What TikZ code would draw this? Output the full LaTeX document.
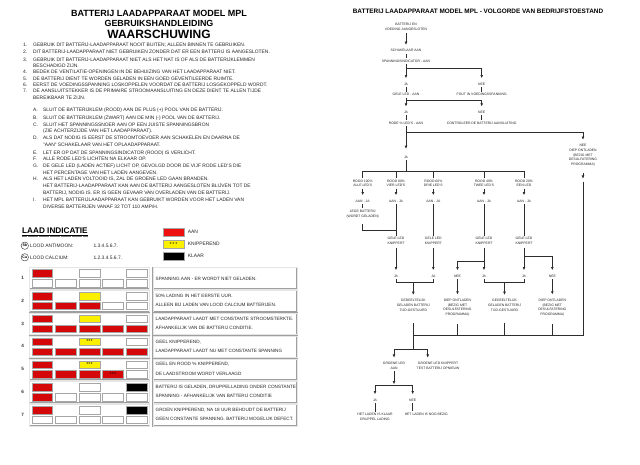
\documentclass[tikz,border=0pt]{standalone}
\usepackage{fontspec}
\setmainfont{Liberation Sans}
\usetikzlibrary{arrows.meta,calc}
\definecolor{ledred}{RGB}{212,8,8}
\definecolor{legred}{RGB}{238,16,16}
\definecolor{ledyel}{RGB}{250,240,0}
\definecolor{lnc}{RGB}{45,45,45}
\newcommand\bodyfont{\fontsize{4.9}{6}\selectfont}
\newcommand\tabfont{\fontsize{4.65}{6}\selectfont}
\newcommand\flfont{\fontsize{3.4}{4.7}\selectfont}
\newcommand\starfont{\fontsize{4}{4}\selectfont\bfseries}
\tikzset{
  bt/.style={anchor=west, inner sep=0pt, text height=3.5pt, text depth=0pt, font=\bodyfont, text=black!85},
  tt/.style={anchor=west, inner sep=0pt, text height=3.4pt, text depth=0pt, font=\tabfont, text=black!85},
  cellb/.style={draw=gray!70, line width=0.35pt, minimum width=20.7pt, minimum height=7.4pt, inner sep=0pt, anchor=north west},
  cw/.style={cellb, fill=white},
  cr/.style={cellb, fill=ledred},
  cy/.style={cellb, fill=ledyel},
  ck/.style={cellb, fill=black},
  cyb/.style={cellb, fill=ledyel, execute at begin node={\starfont *\,*\,*}},
  crb/.style={cellb, fill=ledred, execute at begin node={\starfont *\,*\,*}},
  frm/.style={draw=gray!75, line width=0.55pt, double=gray!20, double distance=0.5pt, inner sep=0pt, anchor=north west},
  fl/.style={font=\flfont, align=center, inner sep=0.4pt, outer sep=1.2pt, text=black!85},
  ln/.style={draw=lnc, line width=0.6pt},
  arr/.style={ln, -{Latex[length=3.2pt,width=2.8pt]}, shorten >=3pt},
}
\newcommand\ledrow[9]{%
  \pgfmathsetmacro\rT{269.3+(#1-1)*22.8}%
  \pgfmathsetmacro\rB{\rT+9.8}%
  \pgfmathsetmacro\rF{\rT-2}%
  \pgfmathsetmacro\rL{\rT+8.6}%
  \node[frm, minimum width=120pt, minimum height=21.4pt] (fa#1) at (29.3,\rF) {};
  \node[frm, minimum width=143.7pt, minimum height=21.4pt] (fb#1) at (153,\rF) {};
  \node[font=\tabfont\bfseries, text=black!80, inner sep=0pt] (lab#1) at (22.7,\rL) {#1};
  \node[#2] (c#1a) at (31.7,\rT) {};
  \node[#3] (c#1b) at (79,\rT) {};
  \node[#4] (c#1c) at (126,\rT) {};
  \node[#5] (c#1d) at (31.7,\rB) {};
  \node[#6] (c#1e) at (55,\rB) {};
  \node[#7] (c#1f) at (79,\rB) {};
  \node[#8] (c#1g) at (102.3,\rB) {};
  \node[#9] (c#1h) at (126,\rB) {};
}
\newcommand\rowtext[3]{%
  \pgfmathsetmacro\rT{269.3+(#1-1)*22.8}%
  \pgfmathsetmacro\rP{\rT+3.6}%
  \pgfmathsetmacro\rQ{\rT+12.8}%
  \node[tt] (ta#1) at (155.5,\rP) {#2};
  \node[tt] (tb#1) at (155.5,\rQ) {#3};
}
\begin{document}
\begin{tikzpicture}[x=1pt,y=-1pt]
\useasboundingbox (0,0) rectangle (640,465);
\fill[white] (0,0) rectangle (640,465);

% ---------- left: titles ----------
\node[font=\fontsize{9}{10}\selectfont\bfseries, inner sep=0pt] (tl1) at (159,13) {BATTERIJ LAADAPPARAAT MODEL MPL};
\node[font=\fontsize{8.9}{10}\selectfont\bfseries, inner sep=0pt] (tl2) at (159,23) {GEBRUIKSHANDLEIDING};
\node[font=\fontsize{12}{13}\selectfont\bfseries, inner sep=0pt] (tl3) at (159,34) {WAARSCHUWING};

% ---------- left: instructions ----------
\node[bt] (i1) at (23,44.3) {1.};
\node[bt] (s1) at (33,44.3) {GEBRUIK DIT BATTERIJ-LAADAPPARAAT NOOIT BUITEN; ALLEEN BINNEN TE GEBRUIKEN.};
\node[bt] (i2) at (23,51.7) {2.};
\node[bt] (s2) at (33,51.7) {DIT BATTERIJ-LAADAPPARAAT NIET GEBRUIKEN ZONDER DAT ER EEN BATTERIJ IS AANGESLOTEN.};
\node[bt] (i3) at (23,59.3) {3.};
\node[bt] (s3) at (33,59.3) {GEBRUIK DIT BATTERIJ-LAADAPPARAAT NIET ALS HET NAT IS OF ALS DE BATTERIJKLEMMEN};
\node[bt] (s3b) at (33,65.8) {BESCHADIGD ZIJN.};
\node[bt] (i4) at (23,71.5) {4.};
\node[bt] (s4) at (33,71.5) {BEDEK DE VENTILATIE-OPENINGEN IN DE BEHUIZING VAN HET LAADAPPARAAT NIET.};
\node[bt] (i5) at (23,78.3) {5.};
\node[bt] (s5) at (33,78.3) {DE BATTERIJ DIENT TE WORDEN GELADEN IN EEN GOED GEVENTILEERDE RUIMTE.};
\node[bt] (i6) at (23,84.6) {6.};
\node[bt] (s6) at (33,84.6) {EERST DE VOEDINGSSPANNING LOSKOPPELEN VOORDAT DE BATTERIJ LOSGEKOPPELD WORDT.};
\node[bt] (i7) at (23,91) {7.};
\node[bt] (s7) at (33,91) {DE AANSLUITSTEKKER IS DE PRIMAIRE STROOMAANSLUITING EN DEZE DIENT TE ALLEN TIJDE};
\node[bt] (s7b) at (33,98) {BEREIKBAAR TE ZIJN.};

\node[bt] (ia) at (33,110) {A.};
\node[bt] (sa) at (43,110) {SLUIT DE BATTERIJKLEM (ROOD) AAN DE PLUS (+) POOL VAN DE BATTERIJ.};
\node[bt] (ib) at (33,117.3) {B.};
\node[bt] (sb) at (43,117.3) {SLUIT DE BATTERIJKLEM (ZWART) AAN DE MIN (-) POOL VAN DE BATTERIJ.};
\node[bt] (ic) at (33,124.3) {C.};
\node[bt] (sc) at (43,124.3) {SLUIT HET SPANNINGSSNOER AAN OP EEN JUISTE SPANNINGSBRON};
\node[bt] (sc2) at (43,130.8) {(ZIE ACHTERZIJDE VAN HET LAADAPPARAAT).};
\node[bt] (id) at (33,137.8) {D.};
\node[bt] (sd) at (43,137.8) {ALS DAT NODIG IS EERST DE STROOMTOEVOER AAN SCHAKELEN EN DAARNA DE};
\node[bt] (sd2) at (43,144.8) {"AAN" SCHAKELAAR VAN HET OPLAADAPPARAAT.};
\node[bt] (ie) at (33,152.3) {E.};
\node[bt] (se) at (43,152.3) {LET ER OP DAT DE SPANNINGSINDICATOR (ROOD) IS VERLICHT.};
\node[bt] (iff) at (33,159) {F.};
\node[bt] (sf) at (43,159) {ALLE RODE LED'S LICHTEN NA ELKAAR OP.};
\node[bt] (ig) at (33,165.7) {G.};
\node[bt] (sg) at (43,165.7) {DE GELE LED (LADEN ACTIEF) LICHT OP, GEVOLGD DOOR DE VIJF RODE LED'S DIE};
\node[bt] (sg2) at (43,172.3) {HET PERCENTAGE VAN HET LADEN AANGEVEN.};
\node[bt] (ih) at (33,179) {H.};
\node[bt] (sh) at (43,179) {ALS HET LADEN VOLTOOID IS, ZAL DE GROENE LED GAAN BRANDEN.};
\node[bt] (sh2) at (43,185.7) {HET BATTERIJ-LAADAPPARAAT KAN AAN DE BATTERIJ AANGESLOTEN BLIJVEN TOT DE};
\node[bt] (sh3) at (43,192.7) {BATTERIJ, NODIG IS. ER IS GEEN GEVAAR VAN OVERLADEN VAN DE BATTERIJ.};
\node[bt] (ii) at (33,200) {I.};
\node[bt] (si) at (43,200) {HET MPL BATTERIJLAADAPPARAAT KAN GEBRUIKT WORDEN VOOR HET LADEN VAN};
\node[bt] (si2) at (43,206.7) {DIVERSE BATTERIJEN VANAF 32 TOT 110 AMP/H.};

% ---------- legend ----------
\node[anchor=west, inner sep=0pt, text height=5.9pt, text depth=0pt, font=\fontsize{8.2}{9}\selectfont\bfseries] (li) at (22,231) {LAAD INDICATIE};
\draw[line width=0.6pt] ([yshift=-1.2pt]li.south west) -- ([yshift=-1.2pt]li.south east);
\draw[line width=0.9pt, dash pattern=on 0.5pt off 0.6pt, gray] ([yshift=-2.8pt]li.south west) -- ([yshift=-2.8pt]li.south east);
\node[circle, draw=black!80, line width=0.4pt, minimum size=7.4pt, inner sep=0pt, font=\fontsize{3.6}{4}\selectfont\bfseries] (csb) at (24.8,245.7) {Sb};
\node[bt] (lsb) at (30,245.7) {LOOD ANTIMOON:};
\node[bt] (nsb) at (93.3,245.7) {1.3.4.5.6.7.};
\node[circle, draw=black!80, line width=0.4pt, minimum size=7.4pt, inner sep=0pt, font=\fontsize{3.6}{4}\selectfont\bfseries] (cca) at (24.8,257.3) {Ca};
\node[bt] (lca) at (30,257.3) {LOOD CALCIUM:};
\node[bt] (nca) at (93.3,257.3) {1.2.3.4.5.6.7.};
\node[cellb, fill=legred, minimum width=21.5pt, minimum height=8pt] (kr) at (162.5,227.7) {};
\node[bt] (kra) at (187.7,231.7) {AAN};
\node[cellb, fill=ledyel, minimum width=21.5pt, minimum height=8pt, execute at begin node={\starfont *\,\,*\,\,*}] (ky) at (162.5,239.7) {};
\node[bt] (kya) at (187.7,243.7) {KNIPPEREND};
\node[cellb, fill=black, minimum width=21.5pt, minimum height=8pt] (kk) at (162.5,251.7) {};
\node[bt] (kka) at (187.7,255.7) {KLAAR};

% ---------- table ----------
\ledrow{1}{cr}{cw}{cw}{cw}{cw}{cw}{cw}{cw}
\ledrow{2}{cr}{cy}{cw}{cr}{cr}{cr}{cw}{cw}
\ledrow{3}{cr}{cy}{cw}{cr}{cr}{cr}{cr}{cr}
\ledrow{4}{cr}{cyb}{cw}{cr}{cr}{cr}{cr}{cr}
\ledrow{5}{cr}{cyb}{cw}{cr}{cr}{cr}{crb}{cw}
\ledrow{6}{cr}{cw}{ck}{cr}{cw}{cw}{cw}{cw}
\ledrow{7}{cr}{cw}{ck}{cw}{cw}{cw}{cw}{cw}
\node[tt] (ta1) at (155.5,278.3) {SPANNING AAN - ER WORDT NIET GELADEN.};
\rowtext{2}{50\% LADING IN HET EERSTE UUR.}{ALLEEN BIJ LADEN VAN LOOD CALCIUM BATTERIJEN.}
\rowtext{3}{LAADAPPARAAT LAADT MET CONSTANTE STROOMSTERKTE.}{AFHANKELIJK VAN DE BATTERIJ CONDITIE.}
\rowtext{4}{GEEL KNIPPEREND,}{LAADAPPARAAT LAADT NU MET CONSTANTE SPANNING}
\rowtext{5}{GEEL EN ROOD \% KNIPPEREND,}{DE LAADSTROOM WORDT VERLAAGD}
\rowtext{6}{BATTERIJ IS GELADEN, DRUPPELLADING ONDER CONSTANTE}{SPANNING - AFHANKELIJK VAN BATTERIJ CONDITIE}
\rowtext{7}{GROEN KNIPPEREND, NA 18 UUR BEHOUDT DE BATTERIJ}{GEEN CONSTANTE SPANNING. BATTERIJ MOGELIJK DEFECT.}

% ---------- right: flowchart ----------
\node[font=\fontsize{6.4}{7}\selectfont\bfseries, inner sep=0pt] (rt) at (478,11) {BATTERIJ LAADAPPARAAT MODEL MPL - VOLGORDE VAN BEDRIJFSTOESTAND};

\node[fl] (n1) at (406,27) {BATTERIJ EN\\VOEDING AANGESLOTEN};
\node[fl] (n2) at (406,50.7) {SCHAKELAAR AAN};
\node[fl] (n3) at (406,61) {SPANNINGSINDICATOR - AAN};
\node[fl] (j1) at (406,84) {JA};
\node[fl] (e1) at (481.7,84) {NEE};
\node[fl] (n4) at (406,94.7) {GELE LED - AAN};
\node[fl] (f1) at (481.7,94.7) {FOUT IN VOEDINGSSPANNING};
\node[fl] (j2) at (406,112.3) {JA};
\node[fl] (e2) at (481.7,112.3) {NEE};
\node[fl] (n5) at (406,123.3) {RODE \% LED'S - AAN};
\node[fl] (c1) at (481.7,123.3) {CONTROLEER DE BATTERIJ AANSLUITING};
\node[fl] (j3) at (406,157.7) {JA};
\node[fl] (d0) at (583,155.3) {NEE\\DIEP ONTLADEN\\(BEZIG MET\\DESULFATERING\\PROGRAMMA)};

\node[fl] (r1) at (362.7,183.4) {ROOD 100\%\\ALLE LED'S};
\node[fl] (r2) at (396,183.4) {ROOD 80\%\\VIER LED'S};
\node[fl] (r3) at (433.3,183.4) {ROOD 60\%\\DRIE LED'S};
\node[fl] (r4) at (484,183.4) {ROOD 40\%\\TWEE LED'S};
\node[fl] (r5) at (524,183.4) {ROOD 20\%\\EEN LED};
\node[fl] (a1) at (362.7,201) {AAN - JA};
\node[fl] (a2) at (396,201) {AAN - JA};
\node[fl] (a3) at (433.3,201) {AAN - JA};
\node[fl] (a4) at (484,201) {AAN - JA};
\node[fl] (a5) at (524,201) {AAN - JA};
\node[fl] (lb) at (362.7,213.9) {LEGE BATTERIJ\\(WORDT GELADEN)};
\node[fl] (g2) at (396,240.8) {GELE LED\\KNIPPERT};
\node[fl] (g3) at (433.3,240.8) {GELE LED\\KNIPPERT};
\node[fl] (g4) at (484,240.8) {GELE LED\\KNIPPERT};
\node[fl] (g5) at (524,240.8) {GELE LED\\KNIPPERT};
\node[fl] (ja2) at (396,276) {JA};
\node[fl] (ja3) at (433.3,276) {JA};
\node[fl] (ne4) at (457.5,276) {NEE};
\node[fl] (ja4) at (484,276) {JA};
\node[fl] (ja5) at (524,276) {JA};
\node[fl] (ne5) at (552.3,276) {NEE};
\node[fl] (p1) at (413.3,305.4) {GEDEELTELIJK\\GELADEN BATTERIJ\\TIJD-GESTUURD};
\node[fl] (dd1) at (457.5,307.7) {DIEP ONTLADEN\\(BEZIG MET\\DESULFATERING\\PROGRAMMA)};
\node[fl] (p2) at (504.5,305.4) {GEDEELTELIJK\\GELADEN BATTERIJ\\TIJD-GESTUURD};
\node[fl] (dd2) at (552.3,307.7) {DIEP ONTLADEN\\(BEZIG MET\\DESULFATERING\\PROGRAMMA)};
\node[fl] (gr1) at (394,365.8) {GROENE LED\\AAN};
\node[fl] (gr2) at (438,365.8) {GROENE LED KNIPPERT\\TEST BATTERIJ OPNIEUW};
\node[fl] (ja6) at (375,400) {JA};
\node[fl] (ne6) at (412.7,400) {NEE};
\node[fl] (h1) at (375,416.7) {HET LADEN IS KLAAR\\DRUPPEL LADING};
\node[fl] (h2) at (426.3,414.3) {HET LADEN IS NOG BEZIG};

\coordinate (k1) at (406,68.3);
\coordinate (k2) at (406,100);
\coordinate (k3) at (406,132.3);
\coordinate (k4) at (406,171.7);
\coordinate (k5) at (396,230.7);
\coordinate (k6) at (484,261.7);
\coordinate (k7) at (524,256);
\coordinate (m1) at (413.3,282.7);
\coordinate (m2) at (504.5,282.7);
\coordinate (k8) at (583,181.7);
\coordinate (k9) at (583,335.7);
\coordinate (k10) at (413.3,349.3);
\coordinate (k11) at (427.7,349.3);
\coordinate (k12) at (394,385.7);

\draw[arr, shorten <=1pt] (n1) -- (n2);
\draw[ln] (n2) -- (n3);
\draw[arr] (n3) -- (j1);
\draw[arr] (k1) -| (e1);
\draw[ln] (j1) -- (n4);
\draw[ln] (e1) -- (f1);
\draw[arr] (n4) -- (j2);
\draw[arr] (k2) -| (e2);
\draw[ln] (j2) -- (n5);
\draw[ln] (e2) -- (c1);
\draw[arr, shorten >=6pt] (n5) -- (j3);
\draw[arr] (k3) -| (d0);
\draw[ln] (j3) -- (k4);
\draw[ln] (r1) |- (k4) -| (r5);
\draw[ln] (r2) -- (r2 |- k4);
\draw[ln] (r3) -- (r3 |- k4);
\draw[ln] (r4) -- (r4 |- k4);
\draw[arr] (r1) -- (a1);
\draw[arr] (r2) -- (a2);
\draw[arr] (r3) -- (a3);
\draw[arr] (r4) -- (a4);
\draw[arr] (r5) -- (a5);
\draw[ln] (a1) -- (lb);
\draw[ln, shorten <=5pt] (lb) |- (k5);
\draw[ln] (a2) -- (g2);
\draw[ln] (a3) -- (g3);
\draw[ln] (a4) -- (g4);
\draw[ln] (a5) -- (g5);
\draw[arr, shorten <=2pt] (g2) -- (ja2);
\draw[arr, shorten <=2pt] (g3) -- (ja3);
\draw[arr, shorten <=2pt] (g4) -- (ja4);
\draw[arr, shorten <=2pt] (g5) -- (ja5);
\draw[arr] (k6) -| (ne4);
\draw[arr] (k7) -| (ne5);
\draw[ln] (ja2) |- (m1) -| (ja3);
\draw[ln] (ja4) |- (m2) -| (ja5);
\draw[arr] (m1) -- (p1);
\draw[arr] (m2) -- (p2);
\draw[arr] (ne4) -- (dd1);
\draw[arr] (ne5) -- (dd2);
\draw[arr, shorten <=5pt] (d0) -- (k8);
\draw[ln] (k8) -- (k9);
\draw[ln, shorten <=10pt] (p1) -- (k10);
\draw[ln] (p1 |- k9) -- (k9);
\draw[ln, shorten <=6pt] (dd1) -- (dd1 |- k9);
\draw[ln, shorten <=10pt] (p2) -- (p2 |- k9);
\draw[ln, shorten <=6pt] (dd2) -- (dd2 |- k9);
\draw[arr] (k10) -| (gr1);
\draw[arr] (k10) -- (k11) -- (k11 |- gr2.north);
\draw[arr, shorten >=1.5pt] (gr1) -- (k12);
\draw[arr] (k12) -| (ja6);
\draw[arr] (k12) -| (ne6);
\draw[ln] (ja6) -- (h1);
\draw[ln] (ne6) -- (ne6 |- h2.north);
\end{tikzpicture}
\end{document}
